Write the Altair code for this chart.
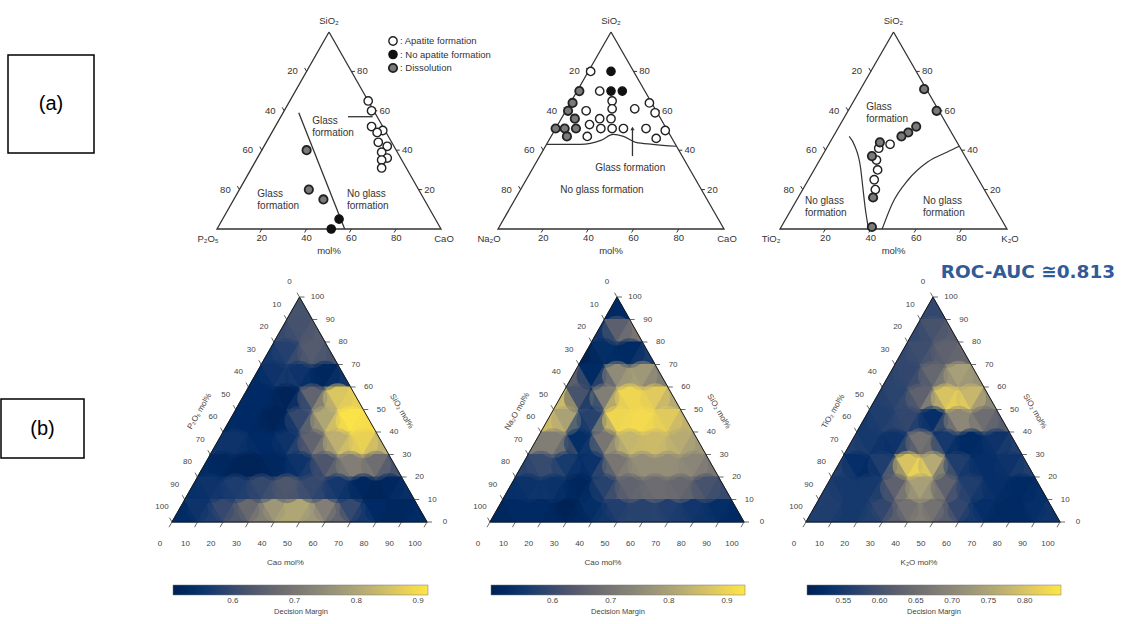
import altair as alt
import pandas as pd

# ---------------- values ----------------
# Top row experimental points: (SiO2 mol%, right-corner oxide mol%)
P1_APATITE = [(65, 35), (60, 39), (52, 43), (50, 49), (49, 47), (44, 50), (42, 55),
              (39, 54), (36, 58), (35, 56), (31, 58)]
P1_NO_APATITE = [(5, 52), (0, 51)]
P1_DISSOLUTION = [(40, 20), (20, 31), (15, 40)]
P1_BOUNDARY = [(59, 7), (0, 57)]
P1_LEADER = [(57, 30), (57, 41)]

P2_APATITE = [(80, 1), (70, 10), (65, 18), (61, 20), (56, 22), (51, 25), (56, 17), (60, 9),
              (53, 14), (51, 20), (47, 16), (61, 30), (64, 35), (59, 40), (50, 49), (51, 40),
              (46, 47), (51, 30)]
P2_NO_APATITE = [(80, 10), (70, 15), (70, 20)]
P2_DISSOLUTION = [(70, 1), (64, 1), (60, 1), (56, 6), (51, 0), (51, 4), (47, 7), (51, 9)]
P2_BOUNDARY = [(43, 0), (43, 15), (45, 23), (48, 27), (47, 32), (44, 39), (43, 47), (42, 58)]
P2_ARROW = [(37, 41), (51, 34)]

P3_APATITE = [(43, 27), (41, 23), (35, 25), (30, 28), (25, 29), (20, 32)]
P3_NO_APATITE = []
P3_DISSOLUTION = [(71, 28), (60, 39), (52, 34), (49, 32), (47, 30), (44, 22), (37, 22),
                  (16, 33), (1, 40)]
P3_BOUNDARY_LEFT = [(47, 7), (42, 12), (31, 20), (21, 26), (11, 32), (0, 39)]
P3_BOUNDARY_RIGHT = [(0, 45), (13, 43), (25, 44), (34, 48), (39, 54), (42, 58)]

# region notes: (text, SiO2, right oxide)
P1_NOTES_LEFT = [("Glass\nformation", 55, 15), ("Glass\nformation", 18, 9), ("No glass\nformation", 18, 49)]
P2_NOTES_CENTER = [("Glass formation", 31, 43), ("No glass formation", 20, 36)]
P3_NOTES_LEFT = [("Glass\nformation", 62, 7), ("No glass\nformation", 14, 4), ("No glass\nformation", 14, 56)]

LEGEND_LABELS = [": Apatite formation", ": No apatite formation", ": Dissolution"]

TOP_CORNERS = [("P₂O₅", "CaO"), ("Na₂O", "CaO"), ("TiO₂", "K₂O")]
TOP_TICKS = [20, 40, 60, 80]

# Bottom row: decision margin, one row per 10 % SiO2 band from the apex down,
# cells from the left edge to the right edge (alternating up / down triangles)
B1_GRID = [
    [0.62],
    [0.60, 0.62, 0.64],
    [0.56, 0.58, 0.62, 0.64, 0.62],
    [0.53, 0.55, 0.57, 0.55, 0.53, 0.52, 0.55],
    [0.53, 0.53, 0.52, 0.51, 0.56, 0.66, 0.78, 0.86, 0.88],
    [0.53, 0.53, 0.52, 0.51, 0.53, 0.60, 0.70, 0.80, 0.88, 0.91, 0.90],
    [0.55, 0.55, 0.54, 0.53, 0.53, 0.55, 0.60, 0.66, 0.74, 0.82, 0.86, 0.88, 0.82],
    [0.53, 0.52, 0.51, 0.51, 0.51, 0.52, 0.53, 0.55, 0.58, 0.63, 0.68, 0.72, 0.72, 0.68, 0.62],
    [0.54, 0.55, 0.56, 0.57, 0.58, 0.60, 0.62, 0.63, 0.62, 0.60, 0.58, 0.56, 0.54, 0.52, 0.51, 0.52, 0.54],
    [0.53, 0.55, 0.57, 0.60, 0.63, 0.67, 0.72, 0.77, 0.80, 0.80, 0.77, 0.72, 0.66, 0.60, 0.56, 0.53, 0.52, 0.52, 0.53],
]
B2_GRID = [
    [0.52],
    [0.55, 0.65, 0.70],
    [0.50, 0.53, 0.52, 0.52, 0.56],
    [0.65, 0.52, 0.62, 0.75, 0.80, 0.78, 0.72],
    [0.85, 0.62, 0.53, 0.72, 0.88, 0.90, 0.90, 0.88, 0.82],
    [0.85, 0.80, 0.55, 0.58, 0.78, 0.90, 0.91, 0.91, 0.90, 0.88, 0.83],
    [0.72, 0.72, 0.65, 0.53, 0.56, 0.70, 0.80, 0.84, 0.85, 0.85, 0.84, 0.82, 0.78],
    [0.58, 0.60, 0.60, 0.56, 0.52, 0.54, 0.62, 0.70, 0.74, 0.76, 0.76, 0.76, 0.75, 0.74, 0.70],
    [0.53, 0.54, 0.55, 0.54, 0.52, 0.51, 0.53, 0.58, 0.63, 0.66, 0.67, 0.68, 0.68, 0.67, 0.65, 0.62, 0.60],
    [0.51, 0.52, 0.52, 0.52, 0.51, 0.50, 0.51, 0.53, 0.55, 0.57, 0.58, 0.58, 0.58, 0.57, 0.56, 0.55, 0.54, 0.53, 0.52],
]
B3_GRID = [
    [0.58],
    [0.58, 0.60, 0.62],
    [0.58, 0.59, 0.61, 0.63, 0.64],
    [0.57, 0.58, 0.60, 0.64, 0.70, 0.74, 0.72],
    [0.56, 0.57, 0.59, 0.63, 0.72, 0.80, 0.83, 0.78, 0.70],
    [0.55, 0.56, 0.57, 0.58, 0.55, 0.53, 0.62, 0.70, 0.70, 0.65, 0.62],
    [0.56, 0.55, 0.53, 0.54, 0.60, 0.66, 0.64, 0.55, 0.52, 0.52, 0.53, 0.54, 0.56],
    [0.56, 0.53, 0.52, 0.56, 0.66, 0.80, 0.84, 0.76, 0.62, 0.56, 0.54, 0.53, 0.53, 0.54, 0.56],
    [0.56, 0.55, 0.55, 0.55, 0.57, 0.63, 0.70, 0.74, 0.70, 0.63, 0.58, 0.56, 0.54, 0.53, 0.52, 0.52, 0.53],
    [0.56, 0.56, 0.55, 0.55, 0.56, 0.58, 0.62, 0.66, 0.68, 0.66, 0.62, 0.58, 0.55, 0.53, 0.52, 0.52, 0.52, 0.53, 0.54],
]
GRIDS = [B1_GRID, B2_GRID, B3_GRID]
BOTTOM_TICKS = list(range(0, 101, 10))
BOTTOM_TITLES = [("P₂O₅ mol%", "SiO₂ mol%", "Cao mol%"),
                 ("Na₂O mol%", "SiO₂ mol%", "Cao mol%"),
                 ("TiO₂ mol%", "SiO₂ mol%", "K₂O mol%")]
CB_DOMAINS = [[0.503, 0.916], [0.494, 0.931], [0.50, 0.85]]
CB_TICKS = [[0.6, 0.7, 0.8, 0.9], [0.6, 0.7, 0.8, 0.9], [0.55, 0.60, 0.65, 0.70, 0.75, 0.80]]
CB_FORMATS = [".1f", ".1f", ".2f"]
CB_TITLE = "Decision Margin"
ROC_TEXT = "ROC-AUC ≅0.813"

# ---------------- layout ----------------
TOP_GEOM = [dict(lx=217, by=229, w=224, h=197), dict(lx=498, by=229, w=226, h=197),
            dict(lx=780, by=229, w=227, h=197)]
BOT_GEOM = [dict(lx=172, by=522, w=255, h=225), dict(lx=490, by=522, w=254, h=225),
            dict(lx=806, by=522, w=254, h=225)]
CB_Y = 585
LEG_X, LEG_Y, LEG_STEP = 393, 41, 13.5
BOXES = [("(a)", 8, 55, 94, 153), ("(b)", 1, 399, 84, 458)]
ROC_POS = (1028, 272)
SOFT_D, SOFT_D_EDGE = 30, 22   # diameters of the soft overlay discs (px)

TXT = "#333333"
FONT = "Liberation Sans"

XS = alt.Scale(domain=[0, 1125], nice=False, zero=False)
YS = alt.Scale(domain=[0, 624], nice=False, zero=False, reverse=True)
X = alt.X("x:Q", scale=XS, axis=None)
Y = alt.Y("y:Q", scale=YS, axis=None)


def tern(g, top, right):
    return g["lx"] + g["w"] * (right + top / 2.0) / 100.0, g["by"] - g["h"] * top / 100.0


def text_layer(rows, size, align="center", baseline="middle", angle=0, color=TXT,
               font=FONT, weight="normal", line_break=None):
    df = pd.DataFrame(rows, columns=["x", "y", "t"])
    kw = dict(fontSize=size, align=align, baseline=baseline, angle=angle, color=color,
              font=font, fontWeight=weight)
    if line_break:
        kw["lineBreak"] = line_break
    return alt.Chart(df).mark_text(**kw).encode(x=X, y=Y, text="t:N")


def line_layer(rows, color, width, interpolate="linear"):
    df = pd.DataFrame(rows, columns=["x", "y", "grp", "ord"])
    return alt.Chart(df).mark_line(color=color, strokeWidth=width, interpolate=interpolate).encode(
        x=X, y=Y, detail="grp:N", order="ord:Q")


def rule_layer(rows, color, width):
    df = pd.DataFrame(rows, columns=["x", "y", "x2", "y2"])
    return alt.Chart(df).mark_rule(color=color, strokeWidth=width).encode(
        x=X, y=Y, x2="x2:Q", y2="y2:Q")


def point_layer(rows, fill, stroke, size=70, sw=1.3, shape="circle"):
    df = pd.DataFrame(rows, columns=["x", "y"])
    return alt.Chart(df).mark_point(shape=shape, filled=True, fill=fill, stroke=stroke,
                                    strokeWidth=sw, size=size, opacity=1).encode(x=X, y=Y)


layers = []

# ---------- bottom row heat maps ----------
for g, grid, dom, ticks, fmt in zip(BOT_GEOM, GRIDS, CB_DOMAINS, CB_TICKS, CB_FORMATS):
    n = len(grid)
    rows = []
    for r, row in enumerate(grid):
        for j, v in enumerate(row):
            top = 100.0 * (n - r - 0.5) / n
            right = 100.0 * (j + 0.5) / (2 * n)
            x, y = tern(g, top, right)
            d = SOFT_D if r < n - 1 else SOFT_D_EDGE
            rows.append(dict(x=x, y=y, v=v, soft=(j % 2 == 1), sz=d * d,
                             shape="triangle-up" if j % 2 == 0 else "triangle-down"))
    df = pd.DataFrame(rows)
    legend = alt.Legend(orient="none", legendX=g["lx"] + 1, legendY=CB_Y,
                        direction="horizontal", gradientLength=g["w"],
                        gradientThickness=10, title=CB_TITLE,
                        titleOrient="bottom", titleAnchor="middle",
                        titleFontSize=7.5, titleFontWeight="normal",
                        titleColor="#444", titleFont=FONT, titlePadding=3,
                        labelFontSize=8, labelColor="#444", labelFont=FONT,
                        values=ticks, format=fmt, padding=0,
                        gradientStrokeColor="#777", gradientStrokeWidth=0.5,
                        labelOverlap=False)
    color = alt.Color("v:Q", scale=alt.Scale(scheme="cividis", domain=dom, clamp=True), legend=legend)
    side = g["w"] / n * 1.07
    cells = alt.Chart(df).mark_point(filled=True, opacity=1, size=side * side, strokeWidth=0).encode(
        x=X, y=Y, shape=alt.Shape("shape:N", scale=None), color=color)
    soft = alt.Chart(df[df["soft"]]).mark_circle(opacity=0.45).encode(
        x=X, y=Y, color=color, size=alt.Size("sz:Q", scale=None))
    layers.append(alt.layer(cells, soft))

# bottom outlines, ticks, labels
b_lines, b_ticks, b_labels = [], [], []
for i, g in enumerate(BOT_GEOM):
    for k, (t, r) in enumerate([(100, 0), (0, 0), (0, 100), (100, 0)]):
        x, y = tern(g, t, r)
        b_lines.append((x, y, f"b{i}", k))
    for v in BOTTOM_TICKS:
        x, y = tern(g, v, 100 - v)          # right edge: SiO2
        b_ticks.append((x, y, x + 5, y))
        b_labels.append((x + 18, y, str(v)))
        x, y = tern(g, 100 - v, 0)          # left edge
        b_ticks.append((x, y, x - 2.5, y - 4.3))
        b_labels.append((x - 10, y - 15, str(v)))
        x, y = tern(g, 0, v)                # bottom edge
        b_ticks.append((x, y, x - 3, y + 5.2))
        b_labels.append((x - 12, y + 22, str(v)))
layers.append(line_layer(b_lines, "#1a1a1a", 1.0))
layers.append(rule_layer(b_ticks, "#444", 0.8))
layers.append(text_layer(b_labels, 8, color="#444"))

lt, rt, bt = [], [], []
for g, (tl, tr, tb) in zip(BOT_GEOM, BOTTOM_TITLES):
    x, y = tern(g, 50, 0)
    lt.append((x - 36, y + 2, tl))
    x, y = tern(g, 50, 50)
    rt.append((x + 38, y + 2, tr))
    x, y = tern(g, 0, 50)
    bt.append((x - 14, y + 41, tb))
layers.append(text_layer(lt, 8, angle=300, color="#444"))
layers.append(text_layer(rt, 8, angle=60, color="#444"))
layers.append(text_layer(bt, 8, color="#444"))

# ---------- top row ternary diagrams ----------
t_lines, t_curves, t_ticks, t_labels, t_corner = [], [], [], [], []
for i, g in enumerate(TOP_GEOM):
    for k, (t, r) in enumerate([(100, 0), (0, 0), (0, 100), (100, 0)]):
        x, y = tern(g, t, r)
        t_lines.append((x, y, f"t{i}", k))
    for v in TOP_TICKS:
        x, y = tern(g, v, 100 - v)
        t_ticks.append((x, y, x + 3.5, y))
        t_labels.append((x + 11, y, str(v)))
        x, y = tern(g, 100 - v, 0)
        t_ticks.append((x, y, x - 2, y - 3.5))
        t_labels.append((x - 14, y, str(v)))
        x, y = tern(g, 0, v)
        t_ticks.append((x, y, x - 2, y + 3.5))
        t_labels.append((x, y + 9, str(v)))
    left_name, right_name = TOP_CORNERS[i]
    x, y = tern(g, 100, 0)
    t_corner.append((x, y - 11, "SiO₂"))
    x, y = tern(g, 0, 0)
    t_corner.append((x - 9, y + 10, left_name))
    x, y = tern(g, 0, 100)
    t_corner.append((x + 3, y + 10, right_name))
    x, y = tern(g, 0, 50)
    t_corner.append((x, y + 22, "mol%"))

for name, gi, pts in [("l1", 0, P1_BOUNDARY), ("l2", 0, P1_LEADER), ("l3", 1, P2_ARROW)]:
    for k, (s, r) in enumerate(pts):
        x, y = tern(TOP_GEOM[gi], s, r)
        t_lines.append((x, y, name, k))
for name, gi, pts in [("c1", 1, P2_BOUNDARY), ("c2", 2, P3_BOUNDARY_LEFT), ("c3", 2, P3_BOUNDARY_RIGHT)]:
    for k, (s, r) in enumerate(pts):
        x, y = tern(TOP_GEOM[gi], s, r)
        t_curves.append((x, y, name, k))

layers.append(line_layer(t_lines, "#333", 1.3))
layers.append(alt.Chart(pd.DataFrame(t_curves, columns=["x", "y", "grp", "ord"]))
              .mark_line(color="#333", strokeWidth=1.2, interpolate="monotone")
              .encode(x=X, y=Y, detail="grp:N", order="ord:Q"))
layers.append(rule_layer(t_ticks, "#333", 1.0))
layers.append(text_layer(t_labels, 9.5))
layers.append(text_layer(t_corner, 9.5))

# arrow head
ax, ay = tern(TOP_GEOM[1], *P2_ARROW[-1])
layers.append(point_layer([(ax, ay)], "#333", "#333", size=18, sw=0, shape="triangle-up"))

# notes
notes_l, notes_c = [], []
for gi, notes in [(0, P1_NOTES_LEFT), (2, P3_NOTES_LEFT)]:
    for txt, s, r in notes:
        x, y = tern(TOP_GEOM[gi], s, r)
        notes_l.append((x, y, txt))
for txt, s, r in P2_NOTES_CENTER:
    x, y = tern(TOP_GEOM[1], s, r)
    notes_c.append((x, y, txt))
layers.append(text_layer(notes_l, 10, align="left", line_break="\n"))
layers.append(text_layer(notes_c, 10))

# points
open_pts, black_pts, grey_pts = [], [], []
for g, ap, na, di in zip(TOP_GEOM, [P1_APATITE, P2_APATITE, P3_APATITE],
                         [P1_NO_APATITE, P2_NO_APATITE, P3_NO_APATITE],
                         [P1_DISSOLUTION, P2_DISSOLUTION, P3_DISSOLUTION]):
    open_pts += [tern(g, s, r) for s, r in ap]
    black_pts += [tern(g, s, r) for s, r in na]
    grey_pts += [tern(g, s, r) for s, r in di]

# legend of the top row
leg_sym = [(LEG_X, LEG_Y + i * LEG_STEP) for i in range(3)]
layers.append(point_layer(open_pts + [leg_sym[0]], "white", "#222", size=70, sw=1.4))
layers.append(point_layer(black_pts + [leg_sym[1]], "#111", "#111", size=70, sw=1.2))
layers.append(point_layer(grey_pts + [leg_sym[2]], "#7a7a7a", "#222", size=70, sw=1.8))
layers.append(text_layer([(LEG_X + 7, LEG_Y + i * LEG_STEP, t) for i, t in enumerate(LEGEND_LABELS)],
                         9.5, align="left"))

# panel tags (a) / (b)
box_rows = [(x0, y0, x1, y1) for _, x0, y0, x1, y1 in BOXES]
layers.append(alt.Chart(pd.DataFrame(box_rows, columns=["x", "y", "x2", "y2"]))
              .mark_rect(fill="white", stroke="black", strokeWidth=1.5)
              .encode(x=X, y=Y, x2="x2:Q", y2="y2:Q"))
layers.append(text_layer([((x0 + x1) / 2, (y0 + y1) / 2, t) for t, x0, y0, x1, y1 in BOXES],
                         20, color="black"))

# ROC-AUC annotation
layers.append(text_layer([(ROC_POS[0], ROC_POS[1], ROC_TEXT)], 18.5, color="#2f5b97",
                         font="DejaVu Sans", weight="bold"))

chart = (
    alt.layer(*layers)
    .resolve_scale(color="independent")
    .properties(width=1125, height=624, padding=0, autosize=alt.AutoSizeParams(type="none"),
                background="white")
    .configure_view(stroke=None)
)

chart.save("out.html", embed_options={"renderer": "svg", "actions": False})
